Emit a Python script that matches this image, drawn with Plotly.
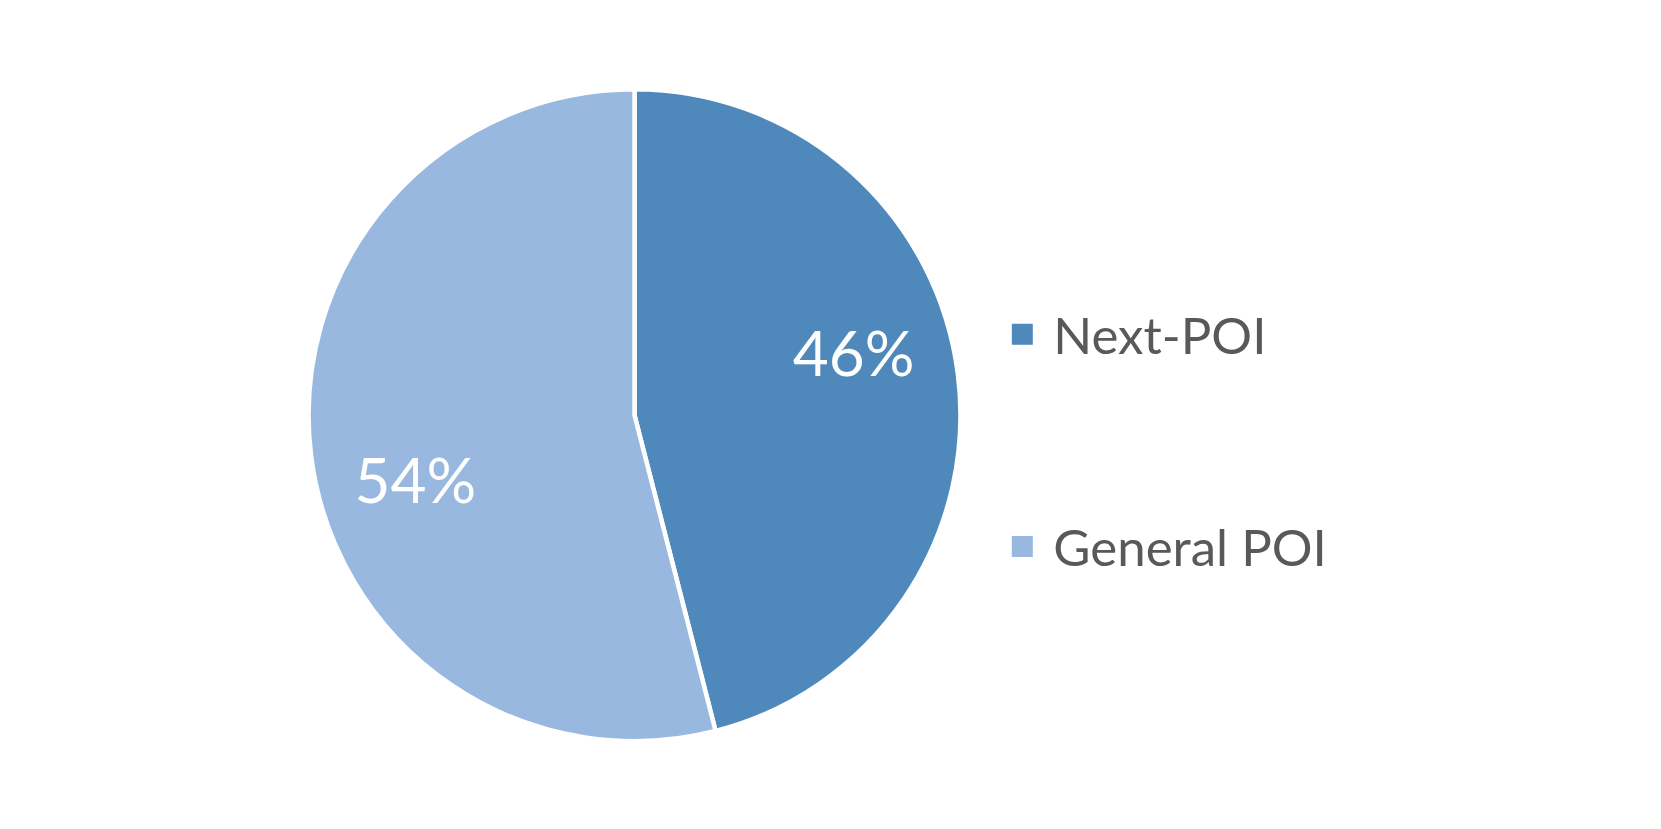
import plotly.graph_objects as go

# categories and shares (%)
labels = ['Next-POI', 'General POI']
values = [46, 54]
colors = ['#4F89BC', '#98B8DF']

dom = dict(x=[0.1725, 0.5819], y=[0.1155, 0.9019])

fig = go.Figure()

# the pie itself
fig.add_trace(go.Pie(
    labels=labels, values=values,
    sort=False, direction='clockwise', rotation=0,
    marker=dict(colors=colors, line=dict(color='white', width=4.5)),
    textinfo='none', domain=dom,
    showlegend=False, hoverinfo='label+percent'
))

# transparent ring on top just to push the % labels outward like excel does
fig.add_trace(go.Pie(
    labels=labels, values=values,
    sort=False, direction='clockwise', rotation=-9, hole=0.4,
    marker=dict(colors=['rgba(0,0,0,0)'] * len(labels), line=dict(width=0)),
    texttemplate='%{percent:.0%}', textposition='inside',
    insidetextorientation='horizontal',
    textfont=dict(family='Lato', size=62, color='white'),
    domain=dom, showlegend=False, hoverinfo='skip'
))

# legend entries, one legend each so the gap can match
for i, (lab, col) in enumerate(zip(labels, colors)):
    fig.add_trace(go.Scatter(
        x=[None], y=[None], mode='markers', name=lab,
        marker=dict(symbol='square', size=16, color=col, line=dict(color=col, width=5)),
        legend='legend' if i == 0 else 'legend2'
    ))

leg = dict(font=dict(family='Lato', size=51, color='#595959'),
           xanchor='left', yanchor='middle', itemwidth=52,
           bgcolor='rgba(0,0,0,0)', itemsizing='trace')
fig.update_layout(
    width=1661, height=829,
    margin=dict(l=0, r=0, t=0, b=0),
    paper_bgcolor='white', plot_bgcolor='white',
    xaxis=dict(visible=False), yaxis=dict(visible=False),
    legend=dict(leg, x=0.5920, y=0.606),
    legend2=dict(leg, x=0.5920, y=0.350),
)

fig.write_html('out.html')
